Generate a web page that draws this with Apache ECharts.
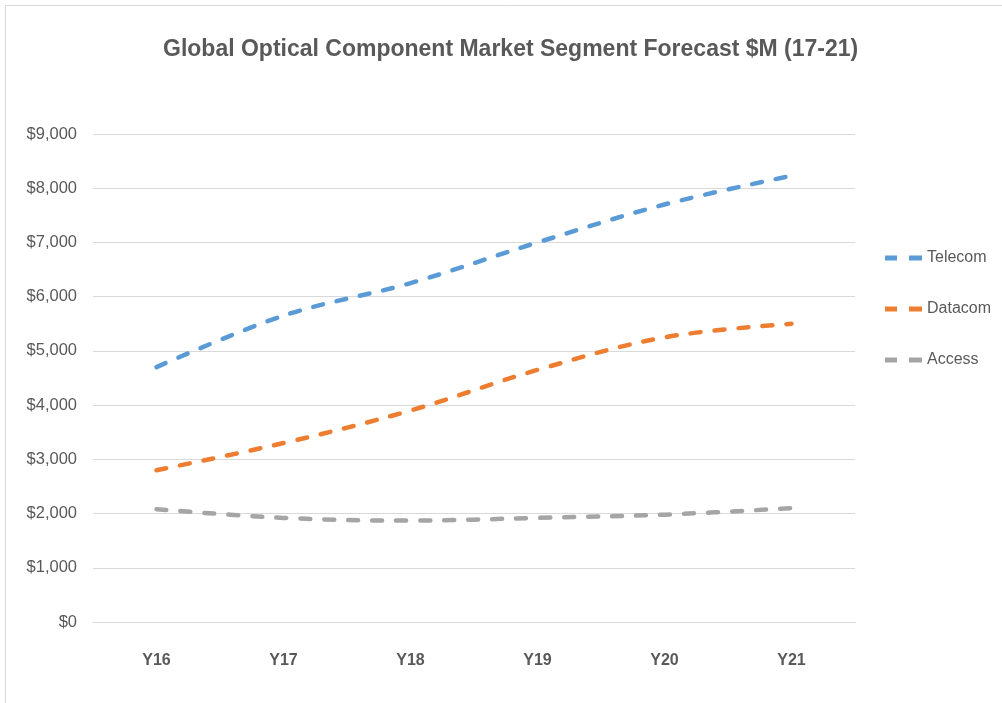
<!DOCTYPE html>
<html>
<head>
<meta charset="utf-8">
<script src="https://cdn.jsdelivr.net/npm/echarts@6/dist/echarts.min.js"></script>
<style>
  html, body { margin: 0; padding: 0; background: #ffffff; }
  #chart { width: 1002px; height: 703px; }
</style>
</head>
<body>
<div id="chart"></div>
<script>
// Market segment forecast, $M per year
const years = ['Y16', 'Y17', 'Y18', 'Y19', 'Y20', 'Y21'];
const telecom = [4700, 5650, 6250, 7000, 7700, 8230];
const datacom = [2800, 3300, 3900, 4650, 5250, 5500];
const access = [2080, 1920, 1870, 1920, 1980, 2100];
const seriesNames = ['Telecom', 'Datacom', 'Access'];
const seriesColors = ['#5B9BD5', '#ED7D31', '#A5A5A5'];

const FONT = '"Liberation Sans", Arial, sans-serif';
const TEXT = '#595959';

const chart = echarts.init(document.getElementById('chart'), null, { renderer: 'canvas' });

function lineSeries(name, data, color) {
  return {
    name: name,
    type: 'line',
    data: data,
    smooth: 0.35,
    symbol: 'none',
    lineStyle: { color: color, width: 4.5, type: [10, 14], cap: 'round' },
    itemStyle: { color: color }
  };
}

chart.setOption({
  animation: false,
  backgroundColor: '#ffffff',
  textStyle: { fontFamily: FONT },
  graphic: [{
    type: 'rect',
    shape: { x: 5.5, y: 5.5, width: 1010, height: 700 },
    style: { fill: 'none', stroke: '#d9d9d9', lineWidth: 1 },
    silent: true
  }],
  title: {
    text: 'Global Optical Component Market Segment Forecast $M (17-21)',
    left: 158,
    top: 33,
    textStyle: { fontFamily: FONT, fontSize: 23, fontWeight: 'bold', color: TEXT }
  },
  legend: {
    orient: 'vertical',
    left: 880,
    top: 245,
    itemWidth: 37,
    itemHeight: 5,
    itemGap: 35,
    icon: 'path://M0,0 L12,0 L12,5 L0,5 Z M24,0 L37,0 L37,5 L24,5 Z',
    data: seriesNames,
    textStyle: { fontFamily: FONT, fontSize: 16, lineHeight: 16, color: TEXT }
  },
  grid: { left: 93, right: 147, top: 134, bottom: 81 },
  xAxis: {
    type: 'category',
    data: years,
    boundaryGap: true,
    axisLine: { show: true, lineStyle: { color: '#d9d9d9', width: 1 } },
    axisTick: { show: false },
    axisLabel: { fontFamily: FONT, fontSize: 16, fontWeight: 'bold', color: TEXT, margin: 31 }
  },
  yAxis: {
    type: 'value',
    min: 0,
    max: 9000,
    interval: 1000,
    axisLine: { show: false },
    axisTick: { show: false },
    splitLine: { lineStyle: { color: '#d9d9d9', width: 1 } },
    axisLabel: {
      fontFamily: FONT, fontSize: 16.5, color: TEXT, margin: 16,
      formatter: v => '$' + v.toLocaleString('en-US')
    }
  },
  series: [
    lineSeries(seriesNames[0], telecom, seriesColors[0]),
    lineSeries(seriesNames[1], datacom, seriesColors[1]),
    lineSeries(seriesNames[2], access, seriesColors[2])
  ]
});
</script>
</body>
</html>
